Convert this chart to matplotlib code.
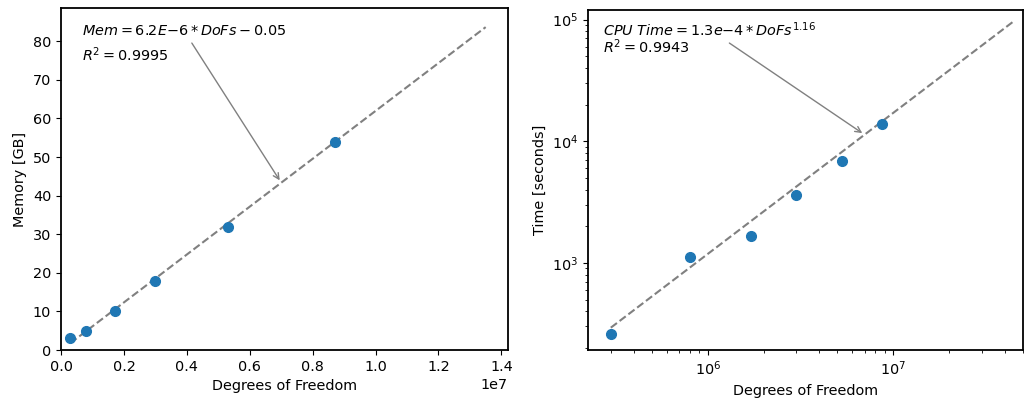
import numpy as np
import matplotlib.pyplot as plt

# measured runs
dofs = [3.0e5, 8.0e5, 1.7e6, 3.0e6, 5.3e6, 8.7e6]
mem_gb = [3, 5, 10, 18, 32, 54]
cpu_s = [260, 1120, 1670, 3600, 6900, 13800]

# fit coefficients (as printed on the chart)
mem_slope, mem_icpt = 6.2e-6, -0.05
cpu_coef, cpu_exp = 1.3e-4, 1.16

plt.rcParams['axes.linewidth'] = 1.3
plt.rcParams['font.size'] = 10.4

fig = plt.figure(figsize=(10.24, 4.01), dpi=100)
ax1 = fig.add_axes([0.0596, 0.127, 0.4365, 0.853])
ax2 = fig.add_axes([0.5742, 0.127, 0.4248, 0.848])

# memory, linear
xf = np.linspace(3.0e5, 1.35e7, 100)
ax1.plot(xf, mem_slope * xf + mem_icpt, '--', color='gray', lw=1.5)
ax1.plot(dofs, mem_gb, 'o', color='#1f77b4', ms=7)
ax1.set_xlim(0, 1.421e7)
ax1.set_ylim(0, 88.6)
ax1.set_xlabel('Degrees of Freedom')
ax1.set_ylabel('Memory [GB]')
ax1.annotate(r'$Mem = 6.2E{-}6 * DoFs - 0.05$',
             xy=(7e6, mem_slope * 7e6 + mem_icpt), xycoords='data',
             xytext=(0.047, 0.933), textcoords='axes fraction', va='center',
             arrowprops=dict(arrowstyle='->', color='gray', lw=1))
ax1.text(0.047, 0.863, r'$R^2 = 0.9995$', transform=ax1.transAxes, va='center')

# cpu time, log-log
xf2 = np.linspace(3.0e5, 4.5e7, 2000)
ax2.plot(xf2, cpu_coef * xf2 ** cpu_exp, '--', color='gray', lw=1.5)
ax2.plot(dofs, cpu_s, 'o', color='#1f77b4', ms=7)
ax2.set_xscale('log')
ax2.set_yscale('log')
ax2.set_xlim(2.26e5, 5.0e7)
ax2.set_ylim(192, 1.2e5)
ax2.set_xlabel('Degrees of Freedom')
ax2.set_ylabel('Time [seconds]')
ax2.annotate(r'$CPU\ Time = 1.3e{-}4 * DoFs^{1.16}$',
             xy=(7e6, cpu_coef * 7e6 ** cpu_exp), xycoords='data',
             xytext=(0.034, 0.943), textcoords='axes fraction', va='center',
             arrowprops=dict(arrowstyle='->', color='gray', lw=1))
ax2.text(0.034, 0.893, r'$R^2 = 0.9943$', transform=ax2.transAxes, va='center')

for ax in (ax1, ax2):
    for s in ax.spines.values():
        s.set_color('black')

fig.savefig('out.png', dpi=100)
